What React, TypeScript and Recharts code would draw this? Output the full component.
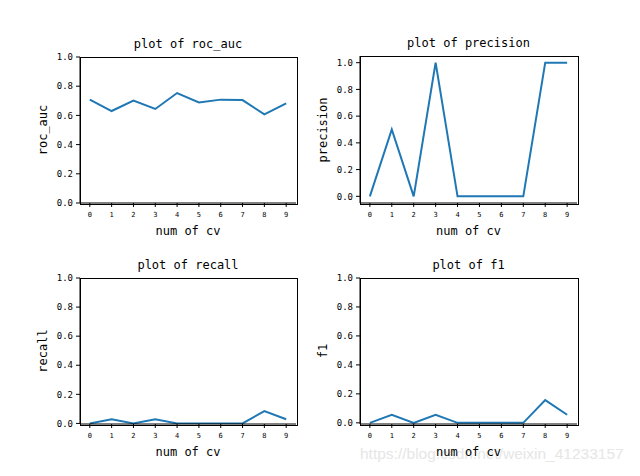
import React from "react";
import { LineChart, Line, XAxis, YAxis } from "recharts";

// folds 0..9
const cvFolds = [0, 1, 2, 3, 4, 5, 6, 7, 8, 9];
const rocAuc = [0.708, 0.63, 0.701, 0.644, 0.753, 0.689, 0.708, 0.705, 0.607, 0.683];
const precision = [0, 0.5, 0, 1, 0, 0, 0, 0, 1, 1];
const recall = [0, 0.029, 0, 0.029, 0, 0, 0, 0, 0.085, 0.029];
const f1 = [0, 0.056, 0, 0.056, 0, 0, 0, 0, 0.157, 0.056];
const yTicks = [0, 0.2, 0.4, 0.6, 0.8, 1.0];

const BLUE = "#1f77b4";
const FONT = "'DejaVu Sans Mono', monospace";

interface PanelProps {
    values: number[];
    title: string;
    yLabel: string;
    plotX: number;
    plotY: number;
    plotW: number;
    plotH: number;
    yDomain: [number, number];
}

function Panel({ values, title, yLabel, plotX, plotY, plotW, plotH, yDomain }: PanelProps) {
    const data = cvFolds.map((cv, i) => ({ cv, value: values[i] }));
    const padL = 60, padT = 10, padR = 10, axisH = 30, padB = 5;
    const width = padL + plotW + padR;
    const height = padT + plotH + axisH + padB;

    return (
        <>
            <div style={{ position: "absolute", left: plotX - padL, top: plotY - padT }}>
                <LineChart
                    width={width}
                    height={height}
                    data={data}
                    margin={{ top: padT, right: padR, left: padL - 40, bottom: padB }}
                >
                    <XAxis
                        dataKey="cv"
                        type="number"
                        domain={[-0.45, 9.45]}
                        ticks={cvFolds}
                        allowDataOverflow
                        height={axisH}
                        stroke="#000"
                        tickSize={4}
                        tickMargin={5}
                        tick={{ fill: "#000", fontSize: 7, fontFamily: FONT }}
                    />
                    <YAxis
                        type="number"
                        domain={yDomain}
                        ticks={yTicks}
                        allowDataOverflow
                        width={40}
                        stroke="#000"
                        tickSize={4}
                        tickMargin={3}
                        tickFormatter={(v: number) => v.toFixed(1)}
                        tick={{ fill: "#000", fontSize: 9, fontFamily: FONT }}
                    />
                    <Line
                        type="linear"
                        dataKey="value"
                        stroke={BLUE}
                        strokeWidth={2}
                        dot={false}
                        isAnimationActive={false}
                    />
                </LineChart>
            </div>
            {/* frame around the axes (matplotlib spines) */}
            <div
                style={{
                    position: "absolute",
                    left: plotX - 0.5,
                    top: plotY - 0.5,
                    width: plotW,
                    height: plotH,
                    border: "1px solid #000",
                    pointerEvents: "none",
                }}
            />
            <div style={{ position: "absolute", left: plotX, width: plotW, top: plotY - 19, textAlign: "center", fontFamily: FONT, fontSize: 12, lineHeight: "12px" }}>
                {title}
            </div>
            <div style={{ position: "absolute", left: plotX, width: plotW, top: plotY + plotH + 22, textAlign: "center", fontFamily: FONT, fontSize: 12, lineHeight: "12px" }}>
                num of cv
            </div>
            <div
                style={{
                    position: "absolute",
                    left: plotX - 37 - 60,
                    top: plotY + plotH / 2 - 6,
                    width: 120,
                    textAlign: "center",
                    fontFamily: FONT,
                    fontSize: 12,
                    lineHeight: "12px",
                    transform: "rotate(-90deg)",
                }}
            >
                {yLabel}
            </div>
        </>
    );
}

export default function App() {
    return (
        <div style={{ position: "absolute", left: 0, top: 0, width: 640, height: 476, background: "#fff" }}>
            <div
                style={{
                    position: "absolute",
                    left: 360,
                    top: 445,
                    fontFamily: "'Liberation Sans', Arial, sans-serif",
                    fontSize: 15.5,
                    lineHeight: "18px",
                    color: "#e6e6e6",
                    whiteSpace: "nowrap",
                }}
            >
                https://blog.csdn.net/weixin_41233157
            </div>
            <Panel values={rocAuc} title="plot of roc_auc" yLabel="roc_auc" plotX={80} plotY={57} plotW={216} plotH={146} yDomain={[0, 1]} />
            <Panel values={precision} title="plot of precision" yLabel="precision" plotX={360} plotY={56} plotW={217} plotH={147} yDomain={[-0.05, 1.05]} />
            <Panel values={recall} title="plot of recall" yLabel="recall" plotX={80} plotY={278} plotW={216} plotH={146} yDomain={[-0.004, 1]} />
            <Panel values={f1} title="plot of f1" yLabel="f1" plotX={360} plotY={278} plotW={217} plotH={146} yDomain={[-0.008, 1]} />
        </div>
    );
}
